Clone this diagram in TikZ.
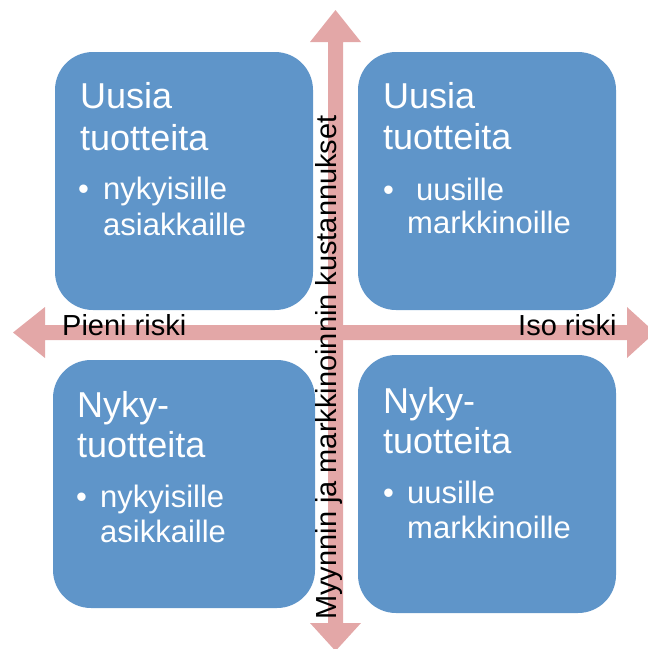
\documentclass[tikz,border=0pt]{standalone}
\usepackage{fontspec}
\setmainfont{Liberation Sans}
\definecolor{boxblue}{HTML}{5F95C9}
\definecolor{arrowpink}{HTML}{E3A7A7}
\begin{document}
\begin{tikzpicture}[x=1pt,y=-1pt,
  quad/.style={fill=boxblue, draw=none, rounded corners=38pt, inner sep=0pt},
  title/.style={anchor=base west, text=white, inner sep=0pt, font=\fontsize{36}{42}\selectfont},
  item/.style={anchor=base west, text=white, inner sep=0pt, font=\fontsize{31}{36}\selectfont},
  axislabel/.style={anchor=base west, text=black, inner sep=0pt, font=\fontsize{29}{34}\selectfont},
  axisarrow/.style={fill=arrowpink, draw=none}]
\useasboundingbox (0,0) rectangle (648,649);
% horizontal arrow
\fill[axisarrow] (13,332.5) -- (45,307) -- (45,325) -- (627,325) -- (627,307) -- (655,332.5)
  -- (627,358) -- (627,340) -- (45,340) -- (45,358) -- cycle;
% vertical arrow
\fill[axisarrow] (335.5,10) -- (361,42) -- (343,42) -- (343,623) -- (361,623) -- (335.5,651)
  -- (310,623) -- (328,623) -- (328,42) -- (310,42) -- cycle;
% boxes
\node[quad, minimum width=258pt, minimum height=258pt] (tl) at (184,181) {};
\node[quad, minimum width=258pt, minimum height=258pt] (tr) at (487,181) {};
\node[quad, minimum width=262pt, minimum height=248pt] (bl) at (184,484) {};
\node[quad, minimum width=258pt, minimum height=258pt] (br) at (487,484) {};
% top-left text
\node[title] (tl1) at (80,108) {Uusia};
\node[title] (tl2) at (80,150) {tuotteita};
\node[item] (tlb) at (78,199) {•};
\node[item] (tl3) at (103,199) {nykyisille};
\node[item] (tl4) at (103,235) {asiakkaille};
% top-right text
\node[title] (tr1) at (383,108) {Uusia};
\node[title] (tr2) at (383,149) {tuotteita};
\node[item] (trb) at (383,200) {•};
\node[item] (tr3) at (416,200) {uusille};
\node[item] (tr4) at (407,233) {markkinoille};
% bottom-left text
\node[title] (bl1) at (77,417) {Nyky-};
\node[title] (bl2) at (77,457) {tuotteita};
\node[item] (blb) at (76,507) {•};
\node[item] (bl3) at (100,507) {nykyisille};
\node[item] (bl4) at (100,542) {asikkaille};
% bottom-right text
\node[title] (br1) at (383,413) {Nyky-};
\node[title] (br2) at (383,453) {tuotteita};
\node[item] (brb) at (383,503) {•};
\node[item] (br3) at (407,503) {uusille};
\node[item] (br4) at (407,538) {markkinoille};
% axis labels
\node[axislabel] (lo) at (62,335) {Pieni riski};
\node[axislabel] (hi) at (518,335) {Iso riski};
\node[axislabel, rotate=90] (cost) at (336,620) {Myynnin ja markkinoinnin kustannukset};
\end{tikzpicture}
\end{document}
